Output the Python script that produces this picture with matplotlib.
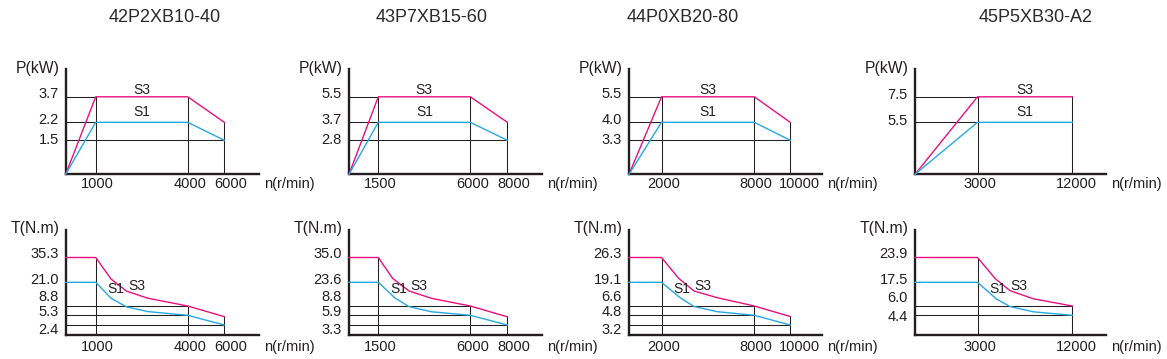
import numpy as np
import matplotlib
matplotlib.use('Agg')
from matplotlib import pyplot as plt

plt.rcParams['font.family'] = ['Liberation Sans', 'DejaVu Sans']

# Motor data (4 models, power + torque curves)
models = ['42P2XB10-40', '43P7XB15-60', '44P0XB20-80', '45P5XB30-A2']

# Power curves P(kW) vs n(r/min)
p_speed = [[0, 1000, 4000, 6000],
           [0, 1500, 6000, 8000],
           [0, 2000, 8000, 10000],
           [0, 3000, 12000]]
p_s3 = [[0, 3.7, 3.7, 2.2],
        [0, 5.5, 5.5, 3.7],
        [0, 5.5, 5.5, 4.0],
        [0, 7.5, 7.5]]
p_s1 = [[0, 2.2, 2.2, 1.5],
        [0, 3.7, 3.7, 2.8],
        [0, 4.0, 4.0, 3.3],
        [0, 5.5, 5.5]]
p_ticks = [[1.5, 2.2, 3.7],
           [2.8, 3.7, 5.5],
           [3.3, 4.0, 5.5],
           [5.5, 7.5]]

# Torque curves T(N.m) vs n(r/min)
t_s3_speed = [[0, 1000, 1500, 2000, 2700, 4000, 6000],
              [0, 1500, 2200, 3000, 4100, 6000, 8000],
              [0, 2000, 3100, 4100, 5600, 8000, 10000],
              [0, 3000, 4700, 6100, 8300, 12000]]
t_s3 = [[35.3, 35.3, 22.9, 16.5, 12.8, 8.8, 4.9],
        [35.0, 35.0, 25.4, 18.2, 13.6, 8.8, 5.5],
        [26.3, 26.3, 20.3, 14.5, 11.0, 6.6, 4.6],
        [23.9, 23.9, 18.4, 13.4, 9.5, 6.0]]
t_s1_speed = [[0, 1000, 1500, 2000, 2700, 4000, 6000],
              [0, 1500, 2300, 3000, 4100, 6000, 8000],
              [0, 2000, 3200, 4100, 5600, 8000, 10000],
              [0, 3000, 4800, 6100, 8300, 12000]]
t_s1 = [[21.0, 21.0, 12.8, 8.5, 6.7, 5.3, 2.4],
        [23.6, 23.6, 14.0, 8.6, 7.0, 5.9, 3.3],
        [19.1, 19.1, 11.0, 6.5, 5.5, 4.8, 3.2],
        [17.5, 17.5, 9.4, 5.9, 5.0, 4.4]]
t_ticks = [[2.4, 5.3, 8.8, 21.0, 35.3],
           [3.3, 5.9, 8.8, 23.6, 35.0],
           [3.2, 4.8, 6.6, 19.1, 26.3],
           [4.4, 6.0, 17.5, 23.9]]

# Layout of the schematic (pixels)
W, H = 1167, 359
MAGENTA = '#e8107f'
CYAN = '#25a9e1'
INK = '#231f20'
col_x0 = [65.7, 349, 629, 915]
col_len = [193.6, 192.7, 192.7, 191]
knee_pos = [[30, 122, 158.6], [29.3, 121.3, 158.3], [32.5, 125.3, 161.2], [62.5, 157.3]]
last_dx = [6.5, 6.7, 8.8, 4]
title_x = [165, 432, 682.5, 1035.5]
row_h = 105
P_POS = [34, 52, 77.5]
T_POS = [9.7, 19.4, 28.7, 52.4, 77.2]
p_lab_dy = [[1, 4, 3.7]] * 3 + [[2.5, 3]]
t_lab_dy = [[-4.3, 4.8, 9.8, 4, 4.3]] * 3 + [[-0.5, 8.7, 4, 5]]

fig = plt.figure(figsize=(W / 100, H / 100), dpi=100)


def make_scale(vals, pos, length):
    vals = list(vals)
    pos = list(pos)
    slope = (vals[-1] - vals[-2]) / (pos[-1] - pos[-2])
    vals.append(vals[-1] + slope * (length - pos[-1]))
    pos.append(length)
    v = np.array(vals, dtype=float)
    p = np.array(pos, dtype=float)
    return (lambda x: np.interp(x, v, p)), (lambda y: np.interp(y, p, v)), v[-1]


def label(ax, s, xy, dxy, ha='center', size=10.5):
    ax.annotate(s, xy=xy, xycoords='data', xytext=dxy, textcoords='offset pixels',
                ha=ha, va='baseline', fontsize=size, color=INK, annotation_clip=False)


def panel(i, top, curves, ticks, ypos, ydy, ylab, tick_drop, kind):
    knees = p_speed[i][1:]
    ax = fig.add_axes([col_x0[i] / W, 1 - (top + row_h) / H, col_len[i] / W, row_h / H])
    fx, ix, xmax = make_scale([0] + list(knees), [0] + knee_pos[i], col_len[i])
    fy, iy, ymax = make_scale([0] + list(ticks), [0] + list(ypos), row_h)
    ax.set_xscale('function', functions=(fx, ix))
    ax.set_yscale('function', functions=(fy, iy))
    ax.set_xlim(0, xmax)
    ax.set_ylim(0, ymax)
    ax.set_xticks([])
    ax.set_yticks([])
    ax.patch.set_visible(False)
    for side in ['top', 'right']:
        ax.spines[side].set_visible(False)
    for side in ['left', 'bottom']:
        ax.spines[side].set_linewidth(1.7)
        ax.spines[side].set_color(INK)

    # black guide lines from the axes to the curve corners
    for k in knees:
        hi = max(np.interp(k, s, v) for s, v, c in curves)
        ax.plot([k, k], [0, hi], color=INK, lw=0.75, zorder=1)
    for t in ticks:
        if any(np.isclose(v[0], t) for s, v, c in curves):
            continue
        hits = [k for k in knees if any(np.isclose(np.interp(k, s, v), t) for s, v, c in curves)]
        if hits:
            ax.plot([0, hits[0]], [t, t], color=INK, lw=0.75, zorder=1)

    for s, v, c in curves:
        ax.plot(s, v, color=c, lw=1.0, zorder=3, clip_on=False)

    # tick labels
    for j, k in enumerate(knees):
        dx = last_dx[i] if j == len(knees) - 1 else 2
        label(ax, str(k), (k, 0), (dx, -tick_drop))
    label(ax, 'n(r/min)', (xmax, 0), (5, -tick_drop), ha='left')
    for t, dy in zip(ticks, ydy):
        label(ax, f'{t:.1f}', (0, t), (-7, dy - 5.2), ha='right')
    label(ax, ylab, (0, ymax), (-6.5, -3.2), ha='right', size=11.3)

    # S3 / S1 tags
    s3 = curves[0][1]
    s1 = curves[1][1]
    if kind == 'P':
        mid = (knees[0] + knees[1]) / 2
        label(ax, 'S3', (mid, s3[1]), (0, 2.4), size=10)
        label(ax, 'S1', (mid, s1[1]), (0, 6.3), size=10)
    else:
        label(ax, 'S1', (knees[0], s1[1]), (20, -11), size=10)
        label(ax, 'S3', (knees[0], s1[1]), (41, -7.7), size=10)


for i in range(4):
    fig.text(title_x[i] / W, 1 - 21.6 / H, models[i], ha='center', va='baseline',
             fontsize=13, color='#2b2b2b')
    p_curves = [(p_speed[i], p_s3[i], MAGENTA), (p_speed[i], p_s1[i], CYAN)]
    n = len(p_ticks[i])
    panel(i, 69.3, p_curves, p_ticks[i], P_POS[-n:], p_lab_dy[i], 'P(kW)', 13.2, 'P')
    t_curves = [(t_s3_speed[i], t_s3[i], MAGENTA), (t_s1_speed[i], t_s1[i], CYAN)]
    n = len(t_ticks[i])
    panel(i, 229.7, t_curves, t_ticks[i], T_POS[-n:], t_lab_dy[i], 'T(N.m)', 16.2, 'T')

fig.savefig('out.png', dpi=100)
